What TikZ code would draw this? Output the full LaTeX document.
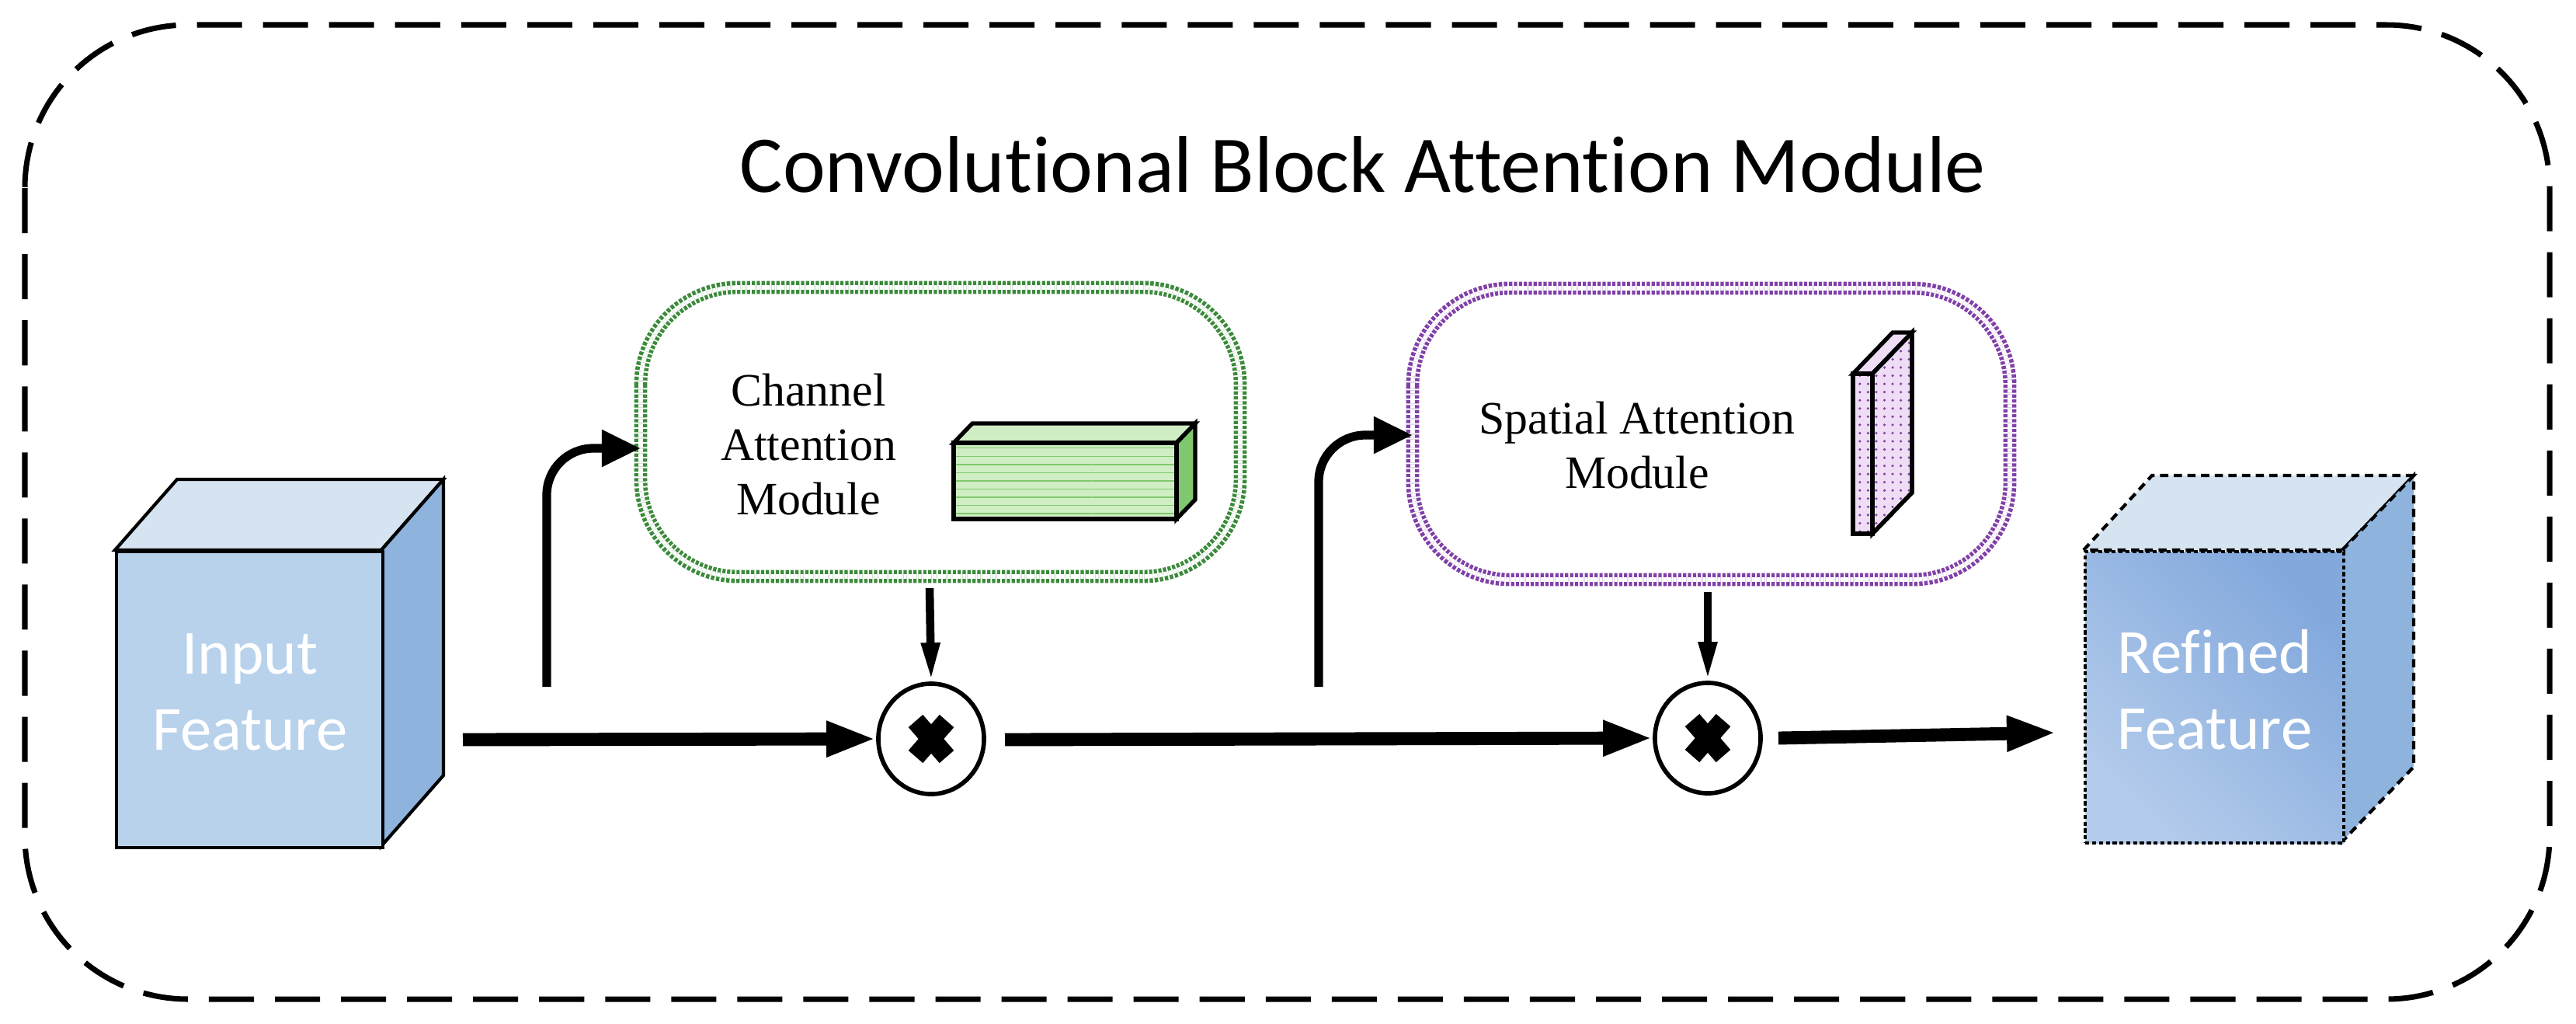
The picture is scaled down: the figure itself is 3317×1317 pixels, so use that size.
\documentclass[tikz,border=0pt]{standalone}
\usepackage{fontspec}
\setmainfont{Liberation Serif}
\newfontfamily\carl[Ligatures=NoCommon]{Carlito}
\usetikzlibrary{arrows.meta,patterns,shapes.geometric}
\definecolor{cfront}{HTML}{B8D2EC}
\definecolor{ctop}{HTML}{D6E4F2}
\definecolor{cside}{HTML}{8EB4DE}
\definecolor{rfront}{HTML}{82A8DC}
\definecolor{rfrontl}{HTML}{B4CCEC}
\definecolor{cgreen}{HTML}{3A8A3A}
\definecolor{cpurp}{HTML}{8040A8}
\definecolor{lgreen}{HTML}{D0EEC4}
\definecolor{mgreen}{HTML}{80C870}
\definecolor{lpurp}{HTML}{EEDDF4}
\tikzset{
  flow/.style={line width=4.8pt,-{Triangle[length=0.64cm,width=0.42cm]}},
  feed/.style={line width=3pt,-{Triangle[length=0.5cm,width=0.22cm]}},
  mul/.style={ellipse,draw,line width=1.6pt,minimum width=1.36cm,minimum height=1.42cm,inner sep=0pt},
  cross/.style={line width=7pt},
  modbox/.style={rounded corners=1.25cm,double distance=1.6pt,line width=1.6pt,dash pattern=on 1.2pt off 0.6pt},
  feat/.style={font=\carl\fontsize{23}{28}\selectfont,text=white,align=center},
  mtext/.style={font=\fontsize{17}{20}\selectfont,align=center},
}
\begin{document}
\begin{tikzpicture}[x=0.01cm,y=-0.01cm]
\useasboundingbox (0,0) rectangle (3317,1317);
% outer
\draw[line width=2pt,dash pattern=on 0.58cm off 0.27cm,rounded corners=2.1cm] (32,32) rectangle (3283,1286);
\node[font=\carl\fontsize{29.5}{36}\selectfont] (title) at (1755,212) {Convolutional Block Attention Module};
% input cube
\fill[ctop,draw=black,line width=1.2pt] (148,708) -- (228,617) -- (571,617) -- (491,708) -- cycle;
\fill[cside,draw=black,line width=1.2pt] (491,708) -- (571,617) -- (571,998) -- (491,1089) -- cycle;
\node[draw=black,line width=1.2pt,fill=cfront,minimum width=3.43cm,minimum height=3.81cm,anchor=north west,inner sep=0pt] (in) at (148,708) {};
\node[feat] (intext) at ([yshift=0.1cm]in.center) {Input\\Feature};
% refined cube
\fill[ctop,draw=black,line width=1.2pt,dash pattern=on 3pt off 2pt] (2683,708) -- (2771,612) -- (3108,612) -- (3016,708) -- cycle;
\fill[cside,draw=black,line width=1.2pt,dash pattern=on 3pt off 2pt] (3016,708) -- (3108,612) -- (3108,987) -- (3016,1083) -- cycle;
\node[draw=black,line width=1.2pt,dash pattern=on 1.5pt off 1pt,left color=rfrontl,right color=rfront,shading angle=135,minimum width=3.33cm,minimum height=3.75cm,anchor=north west,inner sep=0pt] (out) at (2683,708) {};
\node[feat] (outtext) at ([yshift=0.1cm]out.center) {Refined\\Feature};
% channel box
\draw[modbox,draw=cgreen] (825,370) rectangle (1597,742);
\node[draw=none,minimum width=7.72cm,minimum height=3.72cm,anchor=north west] (cam) at (825,370) {};
\node[mtext] (camtext) at (1041,572) {Channel\\Attention\\Module};
\fill[lgreen,draw=black,line width=1.5pt] (1228,570) -- (1252,545) -- (1539,545) -- (1515,570) -- cycle;
\fill[mgreen,draw=black,line width=1.5pt] (1515,570) -- (1539,545) -- (1539,643) -- (1515,668) -- cycle;
\fill[lgreen] (1228,570) rectangle (1515,668);
\fill[pattern=horizontal lines,pattern color=mgreen] (1228,570) rectangle (1515,668);
\draw[line width=1.5pt] (1228,570) rectangle (1515,668);
% spatial box
\draw[modbox,draw=cpurp] (1819,371) rectangle (2588,746);
\node[draw=none,minimum width=7.69cm,minimum height=3.75cm,anchor=north west] (sam) at (1819,371) {};
\node[mtext] (samtext) at (2108,573) {Spatial Attention\\Module};
\fill[lpurp,draw=black,line width=1.5pt] (2386,481) -- (2437,428) -- (2462,428) -- (2411,481) -- cycle;
\fill[lpurp,draw=black,line width=1.5pt] (2411,481) -- (2462,428) -- (2462,634) -- (2411,687) -- cycle;
\fill[pattern=dots,pattern color=cpurp] (2411,481) -- (2462,428) -- (2462,634) -- (2411,687) -- cycle;
\fill[lpurp] (2386,481) rectangle (2411,687);
\fill[pattern=dots,pattern color=cpurp] (2386,481) rectangle (2411,687);
\draw[line width=1.5pt] (2386,481) rectangle (2411,687);
\draw[line width=1.5pt] (2411,481) -- (2462,428) -- (2462,634) -- (2411,687);
% multipliers
\node[mul] (m1) at (1199,951) {};
\node[mul] (m2) at (2199,950) {};
\foreach \m in {m1,m2}{
  \draw[cross] ([shift={(-20,-23)}]\m.center) -- ([shift={(20,23)}]\m.center);
  \draw[cross] ([shift={(20,-23)}]\m.center) -- ([shift={(-20,23)}]\m.center);
}
% connectors
\coordinate (s1) at (596,952);
\coordinate (s2) at (1294,952);
\coordinate (s3) at (2290,950);
\coordinate (b1) at (704,884);
\coordinate (b2) at (1698,884);
\draw[flow] (s1) -- (m1.west);
\draw[flow] (s2) -- (m2.west);
\draw[flow] (s3) -- (2648,943) coordinate (e3);
\draw[feed] (1197,757) coordinate (c1) -- (m1.north);
\draw[feed] (2199,762) coordinate (c2) -- (m2.north);
\draw[line width=3.2pt,rounded corners=0.6cm,-{Triangle[length=0.5cm,width=0.45cm]}] (b1) |- (cam.west |- 0,577);
\draw[line width=3.2pt,rounded corners=0.6cm,-{Triangle[length=0.5cm,width=0.45cm]}] (b2) |- (sam.west |- 0,560);
\end{tikzpicture}
\end{document}
